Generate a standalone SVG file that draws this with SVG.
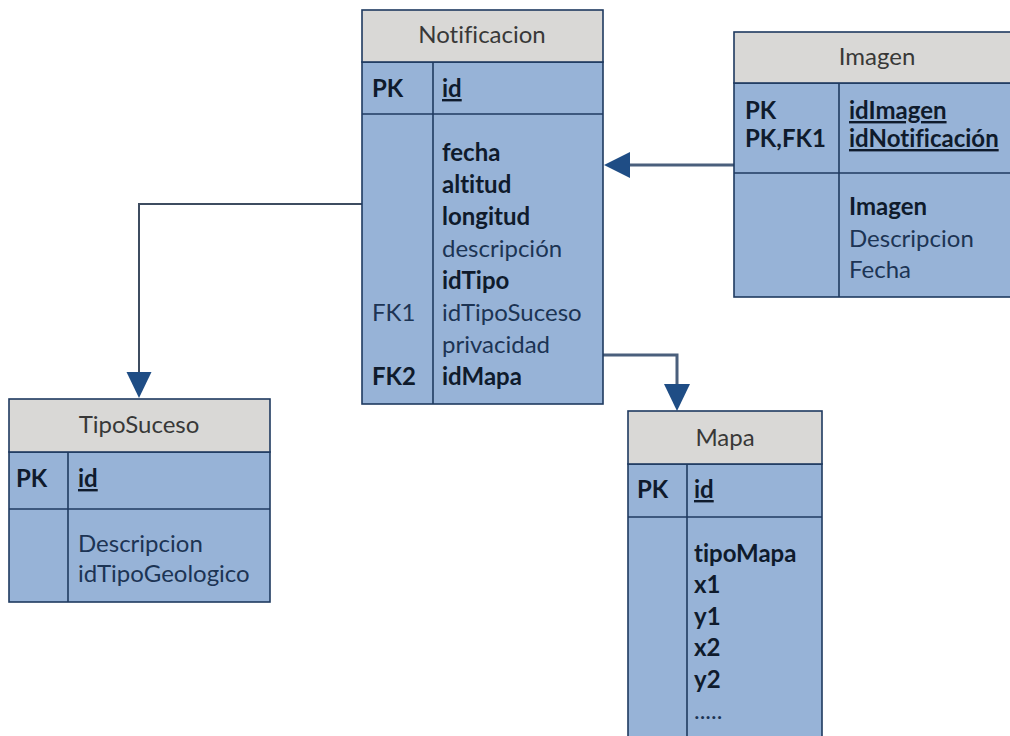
<svg xmlns="http://www.w3.org/2000/svg" width="1010" height="736" viewBox="0 0 1010 736">
<defs>
<style>
.hdr{fill:#d9d8d6;stroke:#1f3a60;stroke-width:1.6}
.body{fill:#97b3d7;stroke:#1f3a60;stroke-width:1.6}
.div{stroke:#1f3a60;stroke-width:1.6}
text{font-family:Lato,"Noto Sans","DejaVu Sans",sans-serif;font-size:24px;font-variant-ligatures:none;font-feature-settings:"liga" 0}
.t{fill:#383838;text-anchor:middle}
.b{font-weight:bold;fill:#0f1b2c}
.r{fill:#1c3454}
.u{text-decoration:underline}
.con{fill:none;stroke:#4a5f7c;stroke-width:3}
.con2{fill:none;stroke:#3e4c60;stroke-width:2}
.ah{fill:#1f4d85}
</style>
</defs>
<rect width="1010" height="736" fill="#ffffff"/>

<g id="connectors">
<polyline class="con" points="734,165 628,165"/>
<polygon class="ah" points="604,165 630,152 630,178"/>
<polyline class="con2" points="362,204 139,204 139,374"/>
<polygon class="ah" points="139,398 126.5,372 151.5,372"/>
<polyline class="con" points="603,355 677,355 677,386"/>
<polygon class="ah" points="677,411 664,384 690,384"/>
</g>

<g id="Notificacion">
<rect class="body" x="362" y="62" width="241" height="342"/>
<rect class="hdr" x="362" y="10" width="241" height="52"/>
<line class="div" x1="362" y1="114" x2="603" y2="114"/>
<line class="div" x1="433" y1="62" x2="433" y2="404"/>
<text class="t" x="482" y="43">Notificacion</text>
<text class="b" x="372" y="97">PK</text>
<text class="b u" x="442" y="97">id</text>
<text class="b" x="442" y="161">fecha</text>
<text class="b" x="442" y="193">altitud</text>
<text class="b" x="442" y="225">longitud</text>
<text class="r" x="442" y="257">descripción</text>
<text class="b" x="442" y="289">idTipo</text>
<text class="r" x="372" y="321">FK1</text>
<text class="r" x="442" y="321">idTipoSuceso</text>
<text class="r" x="442" y="353">privacidad</text>
<text class="b" x="372" y="385">FK2</text>
<text class="b" x="442" y="385">idMapa</text>
</g>

<g id="Imagen">
<rect class="body" x="734" y="83" width="290" height="214"/>
<rect class="hdr" x="734" y="32" width="290" height="51"/>
<line class="div" x1="734" y1="173" x2="1024" y2="173"/>
<line class="div" x1="839" y1="83" x2="839" y2="297"/>
<text class="t" x="877" y="65">Imagen</text>
<text class="b" x="745" y="119">PK</text>
<text class="b" x="745" y="147">PK,FK1</text>
<text class="b u" x="849" y="119">idImagen</text>
<text class="b u" x="849" y="147">idNotificación</text>
<text class="b" x="849" y="215">Imagen</text>
<text class="r" x="849" y="247">Descripcion</text>
<text class="r" x="849" y="278">Fecha</text>
</g>

<g id="TipoSuceso">
<rect class="body" x="9" y="452" width="261" height="150"/>
<rect class="hdr" x="9" y="399" width="261" height="53"/>
<line class="div" x1="9" y1="509" x2="270" y2="509"/>
<line class="div" x1="68" y1="452" x2="68" y2="602"/>
<text class="t" x="139" y="433">TipoSuceso</text>
<text class="b" x="16" y="487">PK</text>
<text class="b u" x="78" y="487">id</text>
<text class="r" x="78" y="552">Descripcion</text>
<text class="r" x="78" y="582">idTipoGeologico</text>
</g>

<g id="Mapa">
<rect class="body" x="628" y="464" width="194" height="290"/>
<rect class="hdr" x="628" y="411" width="194" height="53"/>
<line class="div" x1="628" y1="517" x2="822" y2="517"/>
<line class="div" x1="687" y1="464" x2="687" y2="754"/>
<text class="t" x="725" y="446">Mapa</text>
<text class="b" x="637" y="498">PK</text>
<text class="b u" x="694" y="498">id</text>
<text class="b" x="694" y="562">tipoMapa</text>
<text class="b" x="694" y="593">x1</text>
<text class="b" x="694" y="625">y1</text>
<text class="b" x="694" y="656">x2</text>
<text class="b" x="694" y="688">y2</text>
<text class="r" x="694" y="719">.....</text>
</g>
</svg>
